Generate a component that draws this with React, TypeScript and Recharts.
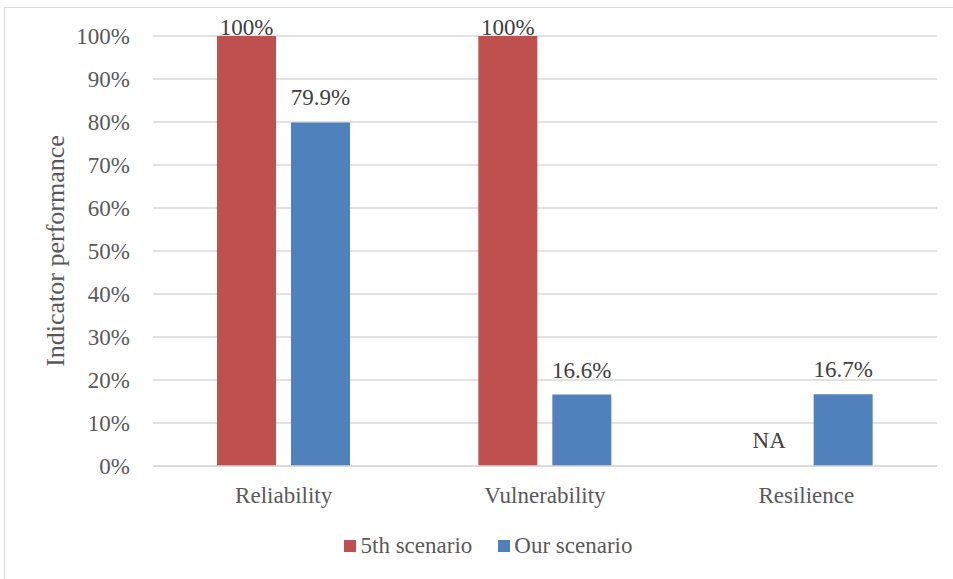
import React from 'react';
import { BarChart, Bar, XAxis, YAxis, CartesianGrid, Legend, LabelList, Cell } from 'recharts';

// categories and series
const categories = ['Reliability', 'Vulnerability', 'Resilience'];
const fifthScenario = [100, 100, 0];
const fifthLabels = ['100%', '100%', 'NA'];
const ourScenario = [79.9, 16.6, 16.7];
const ourLabels = ['79.9%', '16.6%', '16.7%'];
const yTicks = [0, 10, 20, 30, 40, 50, 60, 70, 80, 90, 100];

const data = categories.map((name, i) => ({
  name,
  fifth: fifthScenario[i],
  ours: ourScenario[i],
}));

const FONT = "'Times New Roman', 'Liberation Serif', 'DejaVu Serif', serif";
const RED = '#C0504D';
const BLUE = '#4F81BD';

const makeLabel = (labels: string[]) => (props: any) => {
  const { x, y, width, index } = props;
  const baseline = Math.max(Number(y) - 17, 26.5);
  return (
    <text
      x={Number(x) + Number(width) / 2}
      y={baseline}
      textAnchor="middle"
      fill="#404040"
      style={{ fontSize: 23, fontFamily: FONT }}
    >
      {labels[index]}
    </text>
  );
};

const renderLegend = () => (
  <div
    style={{
      display: 'flex',
      justifyContent: 'center',
      alignItems: 'center',
      height: 30,
      fontFamily: FONT,
      fontSize: 23,
      color: '#595959',
    }}
  >
    <span style={{ display: 'flex', alignItems: 'center' }}>
      <span style={{ width: 12, height: 12, background: RED, marginRight: 5 }} />
      5th scenario
    </span>
    <span style={{ display: 'flex', alignItems: 'center', marginLeft: 26 }}>
      <span style={{ width: 12, height: 12, background: BLUE, marginRight: 4 }} />
      Our scenario
    </span>
  </div>
);

const yTitle = (props: any) => {
  const { viewBox } = props;
  const cy = viewBox.y + viewBox.height / 2;
  return (
    <text
      x={50}
      y={cy}
      transform={`rotate(-90, 50, ${cy})`}
      textAnchor="middle"
      dominantBaseline="central"
      fill="#595959"
      style={{ fontSize: 26, fontFamily: FONT }}
    >
      Indicator performance
    </text>
  );
};

const tickStyle = { fill: '#595959', fontSize: 23, fontFamily: FONT, style: { fontFamily: FONT } };

export default function App() {
  return (
    <div style={{ position: 'fixed', inset: 0, overflow: 'hidden', background: '#fff', fontFamily: FONT }}>
      <div
        style={{
          position: 'absolute',
          left: 4,
          top: 7,
          width: 966,
          height: 580,
          border: '1px solid #d9d9d9',
          background: '#fff',
        }}
      >
        <BarChart
          width={966}
          height={580}
          data={data}
          margin={{ top: 28, right: 34, left: 0, bottom: 27 }}
          barSize={59}
          barGap={15}
          style={{ fontFamily: FONT }}
        >
          <CartesianGrid vertical={false} stroke="#d9d9d9" strokeWidth={1.3} />
          <XAxis
            dataKey="name"
            height={65}
            tickLine={false}
            axisLine={{ stroke: '#d9d9d9', strokeWidth: 1.3 }}
            tickMargin={15}
            tick={tickStyle}
          />
          <YAxis
            width={148}
            domain={[0, 100]}
            ticks={yTicks}
            interval={0}
            tickFormatter={(v) => `${v}%`}
            axisLine={false}
            tickLine={false}
            tickMargin={17}
            tick={tickStyle}
            label={{ content: yTitle }}
          />
          <Legend
            verticalAlign="bottom"
            content={renderLegend}
            wrapperStyle={{ left: 0, width: 966 }}
          />
          <Bar dataKey="fifth" name="5th scenario" fill={RED} minPointSize={1} isAnimationActive={false}>
            {fifthScenario.map((v, i) => (
              <Cell key={i} fill={v === 0 ? 'transparent' : RED} />
            ))}
            <LabelList dataKey="fifth" content={makeLabel(fifthLabels)} />
          </Bar>
          <Bar dataKey="ours" name="Our scenario" fill={BLUE} isAnimationActive={false}>
            <LabelList dataKey="ours" content={makeLabel(ourLabels)} />
          </Bar>
        </BarChart>
      </div>
    </div>
  );
}
